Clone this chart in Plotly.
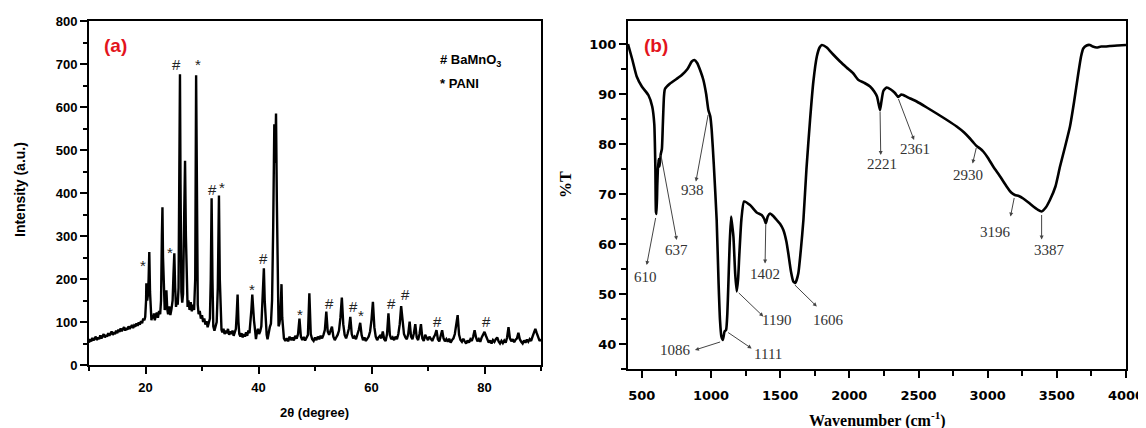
import plotly.graph_objects as go

# ---------------- Panel (a): XRD data ----------------
xrd_2theta = [
    10.0, 10.2, 10.4, 10.6, 10.8, 11.0, 11.2, 11.4, 11.6, 11.8, 12.0, 12.2, 12.4, 12.6, 12.8, 13.0,
    13.2, 13.4, 13.6, 13.8, 14.0, 14.2, 14.4, 14.6, 14.8, 15.0, 15.2, 15.4, 15.6, 15.8, 16.0, 16.2,
    16.4, 16.6, 16.8, 17.0, 17.2, 17.4, 17.6, 17.8, 18.0, 18.2, 18.4, 18.6, 18.8, 19.0, 19.2, 19.4,
    19.6, 19.8,
    19.95, 20.1, 20.15, 20.3, 20.45, 20.55, 20.67, 20.8, 20.9, 21.05, 21.2, 21.35, 21.5, 21.65, 21.8, 22.0,
    22.2, 22.4, 22.6, 22.75, 22.9, 23.0, 23.1, 23.25, 23.4, 23.55, 23.7, 23.85, 24.0, 24.2, 24.4, 24.6,
    24.8, 24.95, 25.1, 25.25, 25.4, 25.55, 25.7, 25.85, 26.0, 26.1, 26.2, 26.35, 26.5, 26.65, 26.85, 27.0,
    27.15, 27.3, 27.45, 27.6, 27.8, 28.0, 28.2, 28.4, 28.6, 28.8, 28.96, 29.1, 29.25, 29.4, 29.6, 29.8,
    30.0, 30.2, 30.4, 30.6, 30.8, 31.0, 31.2, 31.4, 31.55, 31.7, 31.85, 32.0, 32.2, 32.4, 32.6, 32.8,
    33.0, 33.15, 33.3, 33.45, 33.6, 33.8, 34.0, 34.2, 34.4, 34.6, 34.8, 35.0, 35.2, 35.4, 35.6, 35.8,
    36.0, 36.15, 36.3, 36.45, 36.6, 36.8, 37.0, 37.2, 37.4, 37.6, 37.8, 38.0, 38.2, 38.4, 38.6, 38.75,
    38.9, 39.05, 39.2, 39.4, 39.55, 39.7, 39.9, 40.1, 40.3, 40.5, 40.7, 40.95, 41.1, 41.3, 41.45, 41.6,
    41.8, 42.0, 42.2, 42.4, 42.6, 42.8, 42.95, 43.1, 43.25, 43.4, 43.55, 43.7, 43.85, 44.0, 44.07, 44.2,
    44.35, 44.5, 44.75,
    45.0, 45.25, 45.5, 45.75, 46.0, 46.25, 46.5, 46.75, 47.0, 47.25, 47.5, 47.75, 48.0, 48.25, 48.5, 48.75,
    49.0, 49.25, 49.5, 49.75, 50.0, 50.25, 50.5, 50.75, 51.0, 51.25, 51.5, 51.75, 52.0, 52.25, 52.5, 52.75,
    53.0, 53.25, 53.5, 53.75, 54.0, 54.25, 54.5, 54.75, 55.0, 55.25, 55.5, 55.75, 56.0, 56.25, 56.5, 56.75,
    57.0, 57.25, 57.5, 57.75, 58.0, 58.25, 58.5, 58.75, 59.0, 59.25, 59.5, 59.75, 60.0, 60.25, 60.5, 60.75,
    61.0, 61.25, 61.5, 61.75, 62.0, 62.25, 62.5, 62.75, 63.0, 63.25, 63.5, 63.75, 64.0, 64.25, 64.5, 64.75,
    65.0, 65.25, 65.5, 65.75, 66.0, 66.25, 66.5, 66.75, 67.0, 67.25, 67.5, 67.75, 68.0, 68.25, 68.5, 68.75,
    69.0, 69.25, 69.5, 69.75, 70.0, 70.25, 70.5, 70.75, 71.0, 71.25, 71.5, 71.75, 72.0, 72.25, 72.5, 72.75,
    73.0, 73.25, 73.5, 73.75, 74.0, 74.25, 74.5, 74.75, 75.0, 75.25, 75.5, 75.75, 76.0, 76.25, 76.5, 76.75,
    77.0, 77.25, 77.5, 77.75, 78.0, 78.25, 78.5, 78.75, 79.0, 79.25, 79.5, 79.75, 80.0, 80.25, 80.5, 80.75,
    81.0, 81.25, 81.5, 81.75, 82.0, 82.25, 82.5, 82.75, 83.0, 83.25, 83.5, 83.75, 84.0, 84.25, 84.5, 84.75,
    85.0, 85.25, 85.5, 85.75, 86.0, 86.25, 86.5, 86.75, 87.0, 87.25, 87.5, 87.75, 88.0, 88.25, 88.5, 88.75,
    89.0, 89.25, 89.5, 89.75, 90.0,
]
xrd_intensity = [
    52, 60, 55, 63, 57, 61, 66, 58, 64, 60, 69, 62, 67, 72, 64, 70,
    66, 74, 68, 73, 78, 70, 76, 72, 80, 74, 82, 77, 85, 79, 83, 88,
    80, 86, 82, 90, 84, 88, 93, 86, 92, 89, 97, 91, 99, 94, 102, 97,
    108, 104,
    112, 150, 190, 150, 165, 200, 263, 170, 118, 104, 116, 108, 120, 104, 114, 122,
    110, 126, 118, 150, 300, 367, 250, 150, 128, 140, 174, 130, 118, 136, 116, 130,
    150, 210, 260, 180, 135, 150, 140, 180, 450, 676, 420, 170, 145, 165, 350, 475,
    300, 160, 135, 150, 128, 146, 125, 140, 128, 200, 674, 420, 140, 118, 126, 108,
    116, 100, 108, 94, 102, 88, 96, 108, 200, 388, 200, 90, 80, 92, 100, 180,
    394, 200, 100, 82, 76, 84, 72, 80, 74, 84, 70, 78, 72, 80, 68, 76,
    84, 120, 164, 100, 72, 66, 74, 64, 72, 66, 76, 68, 80, 74, 100, 130,
    164, 120, 104, 80, 60, 74, 84, 72, 78, 90, 140, 225, 150, 85, 70, 60,
    78, 88, 96, 150, 320, 560, 470, 585, 380, 160, 90, 96, 110, 160, 188, 110,
    70, 62, 56,
    62, 55, 66, 58, 64, 57, 68, 61, 72, 108, 66, 58, 65, 57, 63, 70,
    167, 72, 60, 56, 64, 58, 66, 60, 68, 62, 70, 82, 124, 78, 70, 80,
    89, 66, 58, 64, 70, 80, 110, 157, 95, 70, 62, 72, 85, 112, 72, 62,
    66, 60, 70, 82, 98, 70, 58, 64, 56, 62, 66, 78, 105, 147, 88, 66,
    58, 64, 68, 62, 78, 60, 56, 72, 120, 70, 60, 64, 58, 66, 60, 72,
    95, 137, 110, 72, 64, 60, 72, 101, 66, 60, 74, 95, 64, 58, 72, 95,
    62, 56, 70, 64, 58, 66, 60, 56, 64, 70, 81, 60, 55, 66, 81, 62,
    55, 60, 54, 61, 52, 58, 62, 72, 95, 116, 70, 58, 54, 61, 55, 50,
    57, 52, 60, 56, 66, 81, 64, 55, 60, 54, 64, 70, 77, 68, 58, 52,
    57, 50, 58, 54, 60, 64, 55, 50, 56, 51, 57, 52, 64, 88, 62, 55,
    60, 53, 59, 62, 75, 60, 54, 50, 57, 52, 59, 54, 60, 56, 66, 78,
    84, 74, 62, 56, 60,
]

# phase markers above the XRD reflections
xrd_mark_2theta = [19.55, 24.25, 25.55, 29.3, 31.8, 33.5, 38.9, 40.9, 47.3, 52.6, 56.77, 58.2, 63.5, 66.1, 71.6, 80.4]
xrd_mark_height = [240, 271, 699, 709, 407, 421, 186, 248, 126, 142, 136, 124, 143, 164, 101, 101]
xrd_mark_symbol = ["*", "*", "#", "*", "#", "*", "*", "#", "*", "#", "#", "*", "#", "#", "#", "#"]

xrd_legend = ["# BaMnO<sub>3</sub>", "* PANI"]

# ---------------- Panel (b): FTIR data ----------------
ftir_wavenumber = [
    400, 430, 463, 500, 547, 575, 590, 598, 602, 606, 612, 620, 628, 637, 645, 652, 660, 667,
    704, 750, 789, 830, 861, 880, 900, 925, 945, 965, 981, 995, 1005, 1020, 1041, 1055, 1065,
    1075, 1086, 1098, 1109, 1118, 1125, 1135, 1145, 1152, 1162, 1175, 1186, 1196, 1205, 1220,
    1239, 1282, 1330, 1366, 1385, 1396, 1410, 1427, 1450, 1475, 1500, 1523, 1545, 1559, 1578,
    1595, 1610, 1631, 1650, 1668, 1690, 1716, 1740, 1765, 1785, 1801, 1837, 1880, 1933, 1980,
    2029, 2066, 2110, 2150, 2180, 2200, 2212, 2222, 2232, 2246, 2270, 2300, 2330, 2354, 2375,
    2390, 2440, 2487, 2560, 2631, 2700, 2776, 2830, 2872, 2900, 2920, 2945, 2968, 3000, 3040,
    3090, 3137, 3170, 3197, 3225, 3257, 3295, 3330, 3360, 3390, 3420, 3450, 3490, 3523, 3560,
    3595, 3625, 3655, 3675, 3691, 3715, 3739, 3760, 3788, 3820, 3850, 3884, 3940, 4000,
]
ftir_transmittance = [
    100, 97, 93.5, 91.5, 89.8, 87.5, 84, 75, 66.5, 66, 72, 77, 75.5, 78, 79, 84, 89.5, 91,
    92.1, 93, 93.8, 95, 96.5, 96.8, 96.2, 94.5, 92.8, 90, 86.8, 85.5, 82.8, 76, 64.8, 52, 44.8,
    41.5, 40.8, 42.5, 42.8, 46, 51.5, 60, 65.5, 64, 61.5, 54, 50.5, 53, 58, 65,
    68.5, 67.8, 66.3, 65.8, 65, 64.1, 65.5, 66.1, 65.6, 64.8, 64, 62.8, 60.5, 58.1, 54.5,
    52.5, 52.2, 54.1, 59, 64.8, 75, 84.8, 92.5, 97.5, 99.3, 99.8, 99.3, 98, 96.5, 95.3,
    94.1, 92.8, 92.2, 91.5, 90.5, 89.5, 88, 86.8, 88.5, 90.6, 91.3, 90.9, 90.2, 89.4, 89.9,
    89.8, 89.1, 88.5, 87.3, 86.1, 84.9, 83.5, 82.3, 81.1, 80.2, 79.6, 79.1, 78.5, 77.3, 75.5,
    73.5, 71.5, 70.3, 69.8, 69.6, 69.1, 68.3, 67.5, 66.9, 66.5, 67.3, 68.8, 71.5, 75.5, 79.5,
    83.5, 88.5, 94.1, 97.5, 99.1, 99.7, 99.8, 99.5, 99.3, 99.5, 99.5, 99.6, 99.7, 99.8,
]

# band labels: text, label position, arrow head, arrow tail (on the curve)
ftir_bands = ["610", "637", "938", "1086", "1111", "1190", "1402", "1606",
              "2221", "2361", "2930", "3196", "3387"]
ftir_label_pos = [(525, 53.5), (752, 58.8), (864, 70.8), (742, 38.8), (1414, 38.1), (1475, 44.8),
                  (1391, 54.1), (1848, 44.9), (2234, 76.1), (2478, 79.1), (2858, 73.8),
                  (3057, 62.5), (3445, 58.8)]
ftir_arrow_head = [(535, 55.8), (752, 60.8), (891, 72.5), (884, 38.8), (1294, 39.1), (1378, 45.5),
                   (1391, 56.1), (1765, 47.5), (2227, 77.8), (2468, 80.8), (2891, 76.1),
                   (3165, 65.5), (3390, 60.9)]
ftir_arrow_tail = [(602, 65.5), (636, 78.1), (981, 86.1), (1077, 40.5), (1113, 42.5), (1190, 50.5),
                   (1396, 64.1), (1595, 52.1), (2222, 86.8), (2351, 89.3), (2920, 79.5),
                   (3194, 69.5), (3390, 66.1)]

# the page body adds an 8 px offset, so the figure is sized to fit the window after it
OFF = 8
W, H = 1146 - OFF, 428 - OFF


def px(x):
    return (x - OFF) / W


def py(y):
    return 1 - (y - OFF) / H


fig = go.Figure()
fig.add_trace(go.Scatter(x=xrd_2theta, y=xrd_intensity, mode="lines",
                         line=dict(color="black", width=2.4), xaxis="x", yaxis="y",
                         showlegend=False, hoverinfo="skip"))
fig.add_trace(go.Scatter(x=ftir_wavenumber, y=ftir_transmittance, mode="lines",
                         line=dict(color="black", width=2.6, shape="spline", smoothing=0.5),
                         xaxis="x2", yaxis="y2", showlegend=False, hoverinfo="skip"))

tf_a = dict(family="Liberation Sans", size=13, color="black", weight="bold")
tf_b = dict(family="DejaVu Sans", size=13, color="black", weight="bold")
common = dict(showline=True, linewidth=2, linecolor="black", mirror=True, showgrid=False,
              zeroline=False, ticks="outside", tickwidth=2, tickcolor="black", ticklen=7,
              automargin=False)

fig.update_layout(
    template="none",
    width=W, height=H, margin=dict(l=0, r=0, t=0, b=0, pad=0, autoexpand=False),
    paper_bgcolor="white", plot_bgcolor="white", showlegend=False,
    xaxis=dict(domain=[px(89), px(541)], range=[10, 90], tick0=0, dtick=20, anchor="y",
               tickfont=tf_a, ticklabelstandoff=2,
               minor=dict(dtick=10, ticks="outside", ticklen=4, tickwidth=2, tickcolor="black"),
               **common),
    yaxis=dict(domain=[py(365), py(21)], range=[0, 800], dtick=100, anchor="x",
               tickfont=tf_a,
               minor=dict(dtick=50, ticks="outside", ticklen=4, tickwidth=2, tickcolor="black"),
               **common),
    xaxis2=dict(domain=[px(628), px(1126)], range=[400, 4000], tick0=0, dtick=500, anchor="y2",
                tickfont=tf_b, ticklabelstandoff=6,
                minor=dict(dtick=250, ticks="outside", ticklen=5, tickwidth=2, tickcolor="black"),
                **common),
    yaxis2=dict(domain=[py(369), py(21)], range=[35, 104.6], tick0=0, dtick=10, anchor="x2",
                tickfont=tf_b,
                minor=dict(dtick=5, ticks="outside", ticklen=5, tickwidth=2, tickcolor="black"),
                **common),
)

ann = []
center = dict(xref="paper", yref="paper", showarrow=False, xanchor="center", yanchor="middle")
# axis titles
ann.append(dict(text="Intensity (a.u.)", x=px(20), y=py(190), textangle=-90,
                font=dict(family="Liberation Sans", size=14, color="black", weight="bold"), **center))
ann.append(dict(text="2θ (degree)", x=px(314), y=py(412),
                font=dict(family="Liberation Sans", size=13, color="black", weight="bold"), **center))
ann.append(dict(text="%T", x=px(565), y=py(185), textangle=-90,
                font=dict(family="Liberation Serif", size=16, color="black", weight="bold"), **center))
ann.append(dict(text="Wavenumber (cm<sup>-1</sup>)", x=px(877), y=py(419),
                font=dict(family="Liberation Serif", size=16, color="black", weight="bold"), **center))
# panel tags
ann.append(dict(text="(a)", x=px(115), y=py(45),
                font=dict(family="Liberation Sans", size=19, color="#e3141c", weight="bold"), **center))
ann.append(dict(text="(b)", x=px(656), y=py(45),
                font=dict(family="Liberation Sans", size=19, color="#e3141c", weight="bold"), **center))
# legend text of panel (a)
for i, t in enumerate(xrd_legend):
    ann.append(dict(text=t, x=px(438), y=py(60 + 23 * i), xref="paper", yref="paper",
                    xanchor="left", yanchor="middle", showarrow=False,
                    font=dict(family="Liberation Sans", size=13, color="black", weight="bold")))
# phase markers
for xv, yv, s in zip(xrd_mark_2theta, xrd_mark_height, xrd_mark_symbol):
    ann.append(dict(text=s, x=xv, y=yv, xref="x", yref="y", showarrow=False,
                    xanchor="center", yanchor="middle",
                    yshift=-4 if s == "*" else 0,
                    font=dict(family="Liberation Sans", size=15, color="#222")))
# FTIR band labels and arrows
for t, lp, hd, tl in zip(ftir_bands, ftir_label_pos, ftir_arrow_head, ftir_arrow_tail):
    ann.append(dict(text=t, x=lp[0], y=lp[1], xref="x2", yref="y2", showarrow=False,
                    xanchor="center", yanchor="middle",
                    font=dict(family="Liberation Serif", size=15, color="#333")))
    ann.append(dict(text="", x=hd[0], y=hd[1], ax=tl[0], ay=tl[1], xref="x2", yref="y2",
                    axref="x2", ayref="y2", showarrow=True, arrowhead=2, arrowsize=0.8,
                    arrowwidth=1, arrowcolor="#444", standoff=0, startstandoff=0))

fig.update_layout(annotations=ann)
fig.write_html("out.html")
